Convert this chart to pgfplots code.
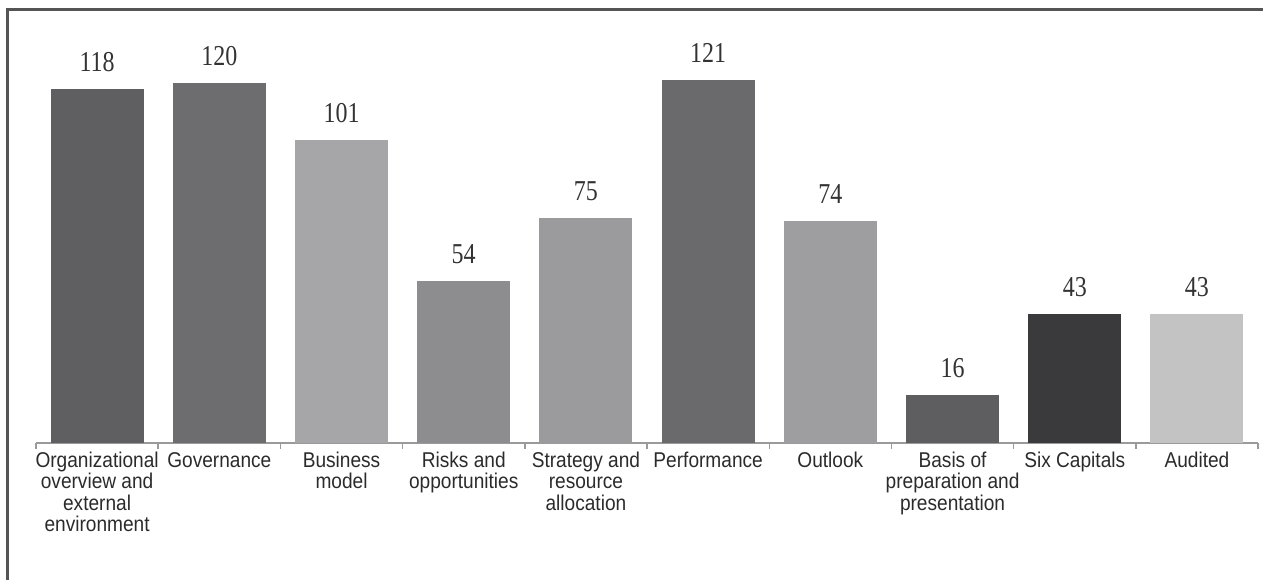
\documentclass[border=0pt]{standalone}
\usepackage{fontspec}
\setmainfont{Liberation Sans}
\newfontfamily\numfont{Liberation Serif}
\usepackage{graphicx}
\usepackage{pgfplots}
\pgfplotsset{compat=1.18}

\definecolor{framegray}{HTML}{555555}
\definecolor{axisgray}{HTML}{9A9A9A}
\definecolor{labelgray}{HTML}{2B2B2B}
\definecolor{numgray}{HTML}{333333}
\definecolor{cA}{HTML}{5F5F62}
\definecolor{cB}{HTML}{6D6D70}
\definecolor{cC}{HTML}{A6A6A8}
\definecolor{cD}{HTML}{8D8D8F}
\definecolor{cE}{HTML}{9B9B9D}
\definecolor{cF}{HTML}{6A6A6C}
\definecolor{cG}{HTML}{9E9EA0}
\definecolor{cH}{HTML}{5E5E60}
\definecolor{cI}{HTML}{3A3A3C}
\definecolor{cJ}{HTML}{C3C3C3}

\begin{document}
\begin{tikzpicture}
\useasboundingbox (0,0) rectangle (1263bp,580bp);
% border on the left and top
\draw[line width=3bp, color=framegray] (7.5bp,0) -- (7.5bp,570.5bp) -- (1263bp,570.5bp);
\begin{axis}[
  at={(36bp,137bp)}, anchor=south west,
  scale only axis, width=1222bp, height=390bp,
  xmin=-0.5, xmax=9.5, ymin=0, ymax=130,
  axis x line=bottom, axis y line=none,
  axis line style={draw=axisgray, line width=1.5bp, -},
  ybar, bar width=93bp,
  xtick={0,...,9},
  xticklabels={
    Organizational\\overview and\\external\\environment,
    Governance,
    Business\\model,
    Risks and\\opportunities,
    Strategy and\\resource\\allocation,
    Performance,
    Outlook,
    Basis of\\preparation and\\presentation,
    Six Capitals,
    Audited},
  major tick length=0pt,
  extra x ticks={-0.5,0.5,...,9.5},
  extra x tick labels={},
  extra x tick style={tick align=outside, major tick length=6bp,
    tick style={draw=axisgray, line width=1.5bp}},
  xticklabel style={font=\fontsize{19.1bp}{19bp}\selectfont, align=center,
    text=labelgray, anchor=north, yscale=1.12, transform shape, inner sep=2bp,
    yshift=-6bp},
  nodes near coords={\scalebox{1}[1.2]{\pgfmathprintnumber[assume math mode=true]{\pgfplotspointmeta}}},
  nodes near coords style={font=\numfont\fontsize{24bp}{24bp}\selectfont,
    text=numgray, anchor=base, yshift=17bp},
  clip=false,
]
\addplot[bar shift=0pt, fill=cA, draw=none] coordinates {(0,118)};
\addplot[bar shift=0pt, fill=cB, draw=none] coordinates {(1,120)};
\addplot[bar shift=0pt, fill=cC, draw=none] coordinates {(2,101)};
\addplot[bar shift=0pt, fill=cD, draw=none] coordinates {(3,54)};
\addplot[bar shift=0pt, fill=cE, draw=none] coordinates {(4,75)};
\addplot[bar shift=0pt, fill=cF, draw=none] coordinates {(5,121)};
\addplot[bar shift=0pt, fill=cG, draw=none] coordinates {(6,74)};
\addplot[bar shift=0pt, fill=cH, draw=none] coordinates {(7,16)};
\addplot[bar shift=0pt, fill=cI, draw=none] coordinates {(8,43)};
\addplot[bar shift=0pt, fill=cJ, draw=none] coordinates {(9,43)};
\end{axis}
\end{tikzpicture}
\end{document}
